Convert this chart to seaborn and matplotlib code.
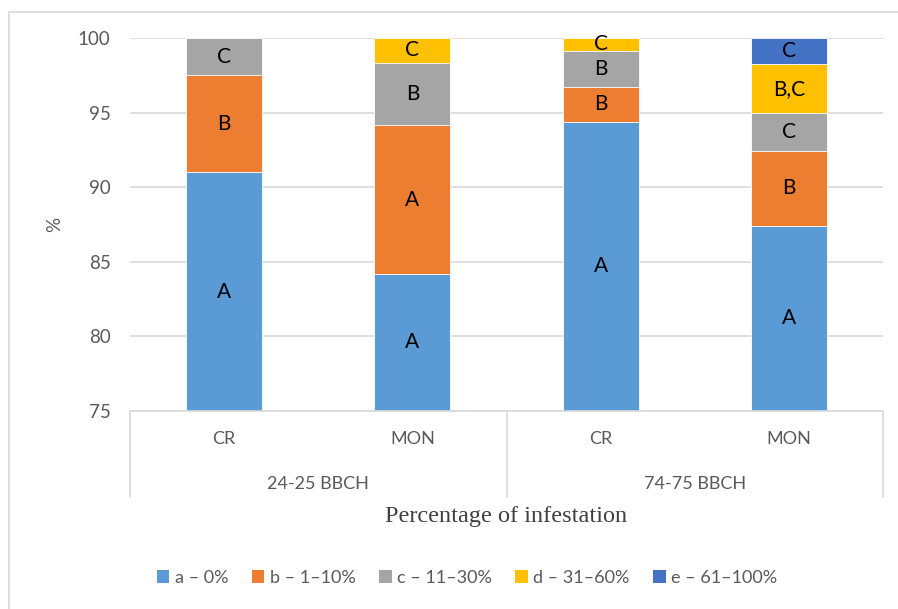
import matplotlib
matplotlib.use("Agg")
import matplotlib.pyplot as plt
from matplotlib.patches import Patch
from matplotlib.lines import Line2D
import seaborn as sns
import pandas as pd
import numpy as np

# Infestation classes and their shares (%) per variant
stages = ["24-25 BBCH", "24-25 BBCH", "74-75 BBCH", "74-75 BBCH"]
variants = ["CR", "MON", "CR", "MON"]
classes = ["a – 0%", "b – 1–10%", "c – 11–30%", "d – 31–60%", "e – 61–100%"]
share_a = [91.0, 84.2, 94.4, 87.4]
share_b = [6.5, 9.95, 2.3, 5.05]
share_c = [2.5, 4.2, 2.45, 2.5]
share_d = [0.0, 1.65, 0.85, 3.3]
share_e = [0.0, 0.0, 0.0, 1.75]
letters_a = ["A", "A", "A", "A"]
letters_b = ["B", "A", "B", "B"]
letters_c = ["C", "B", "B", "C"]
letters_d = ["", "C", "C", "B,C"]
letters_e = ["", "", "", "C"]
colors = ["#5B9BD5", "#ED7D31", "#A5A5A5", "#FFC000", "#4472C4"]

shares = [share_a, share_b, share_c, share_d, share_e]
letters = [letters_a, letters_b, letters_c, letters_d, letters_e]

sns.set_style("white")
plt.rcParams["font.family"] = ["Lato", "DejaVu Sans"]

W, H = 898, 609
fig = plt.figure(figsize=(W / 100, H / 100), dpi=100)
left, right, top, bottom = 130, 883, 38, 411
ax = fig.add_axes([left / W, 1 - bottom / H, (right - left) / W, (bottom - top) / H])

pos = [f"{s}|{v}" for s, v in zip(stages, variants)]
cum = np.cumsum(np.array(shares), axis=0)

# Stacked bars: draw cumulative totals from the top class down
for k in range(len(classes) - 1, -1, -1):
    df = pd.DataFrame({"pos": pos, "val": cum[k]})
    sns.barplot(data=df, x="pos", y="val", order=pos, color=colors[k],
                width=0.405, saturation=1, edgecolor="white", linewidth=0.6,
                ax=ax, zorder=2)

ax.set_ylim(75, 100)
ax.set_xlim(-0.5, 3.5)
ax.set_yticks([75, 80, 85, 90, 95, 100])
ax.tick_params(axis="y", length=0, labelsize=13.5, labelcolor="#595959", pad=14)
ax.set_xticks([])
ax.set_xlabel("")
ax.set_ylabel("%", fontsize=13.5, color="#595959", labelpad=2)
ax.yaxis.set_label_coords(-0.089, 0.5)
ax.grid(axis="y", color="#D9D9D9", linewidth=1.2, zorder=0)
ax.set_axisbelow(True)
for s in ax.spines.values():
    s.set_visible(False)

# Letters inside each segment, centred on the visible part
for k in range(len(classes)):
    for i in range(len(pos)):
        if not letters[k][i]:
            continue
        lo = cum[k - 1][i] if k > 0 else 75.0
        lo = max(lo, 75.0)
        hi = cum[k][i]
        ax.text(i, (lo + hi) / 2, letters[k][i], ha="center", va="center",
                fontsize=15, color="black", zorder=5)

# Two-level category axis
tr = ax.get_xaxis_transform()
line_kw = dict(color="#D9D9D9", linewidth=1.2, transform=tr, clip_on=False)
ax.add_line(Line2D([-0.5, 3.5], [0, 0], **line_kw))
for xb in [-0.5, 1.5, 3.5]:
    ax.add_line(Line2D([xb, xb], [0, -0.231], **line_kw))
for i, v in enumerate(variants):
    ax.text(i, -0.075, v, transform=tr, ha="center", va="center",
            fontsize=13, color="#595959")
for g, xc in zip(["24-25 BBCH", "74-75 BBCH"], [0.5, 2.5]):
    ax.text(xc, -0.195, g, transform=tr, ha="center", va="center",
            fontsize=13, color="#595959")
ax.text(1.5, -0.283, "Percentage of infestation", transform=tr,
        ha="center", va="center", fontsize=17.5, color="#404040",
        family=["Liberation Serif", "DejaVu Serif"])

# Legend
handles = [Patch(facecolor=c, edgecolor="none") for c in colors]
fig.legend(handles, classes, loc="center", bbox_to_anchor=(467 / W, 1 - 578 / H),
           ncol=5, frameon=False, fontsize=13, labelcolor="#595959",
           handlelength=0.7, handleheight=0.7, handletextpad=0.3,
           columnspacing=1.3)

# Chart frame
fig.add_artist(Line2D([8.5 / W, 8.5 / W], [0, 1 - 12 / H], color="#D9D9D9",
                      linewidth=1.2, transform=fig.transFigure))
fig.add_artist(Line2D([8.5 / W, 1], [1 - 12 / H, 1 - 12 / H], color="#D9D9D9",
                      linewidth=1.2, transform=fig.transFigure))

fig.savefig("out.png", dpi=100)
